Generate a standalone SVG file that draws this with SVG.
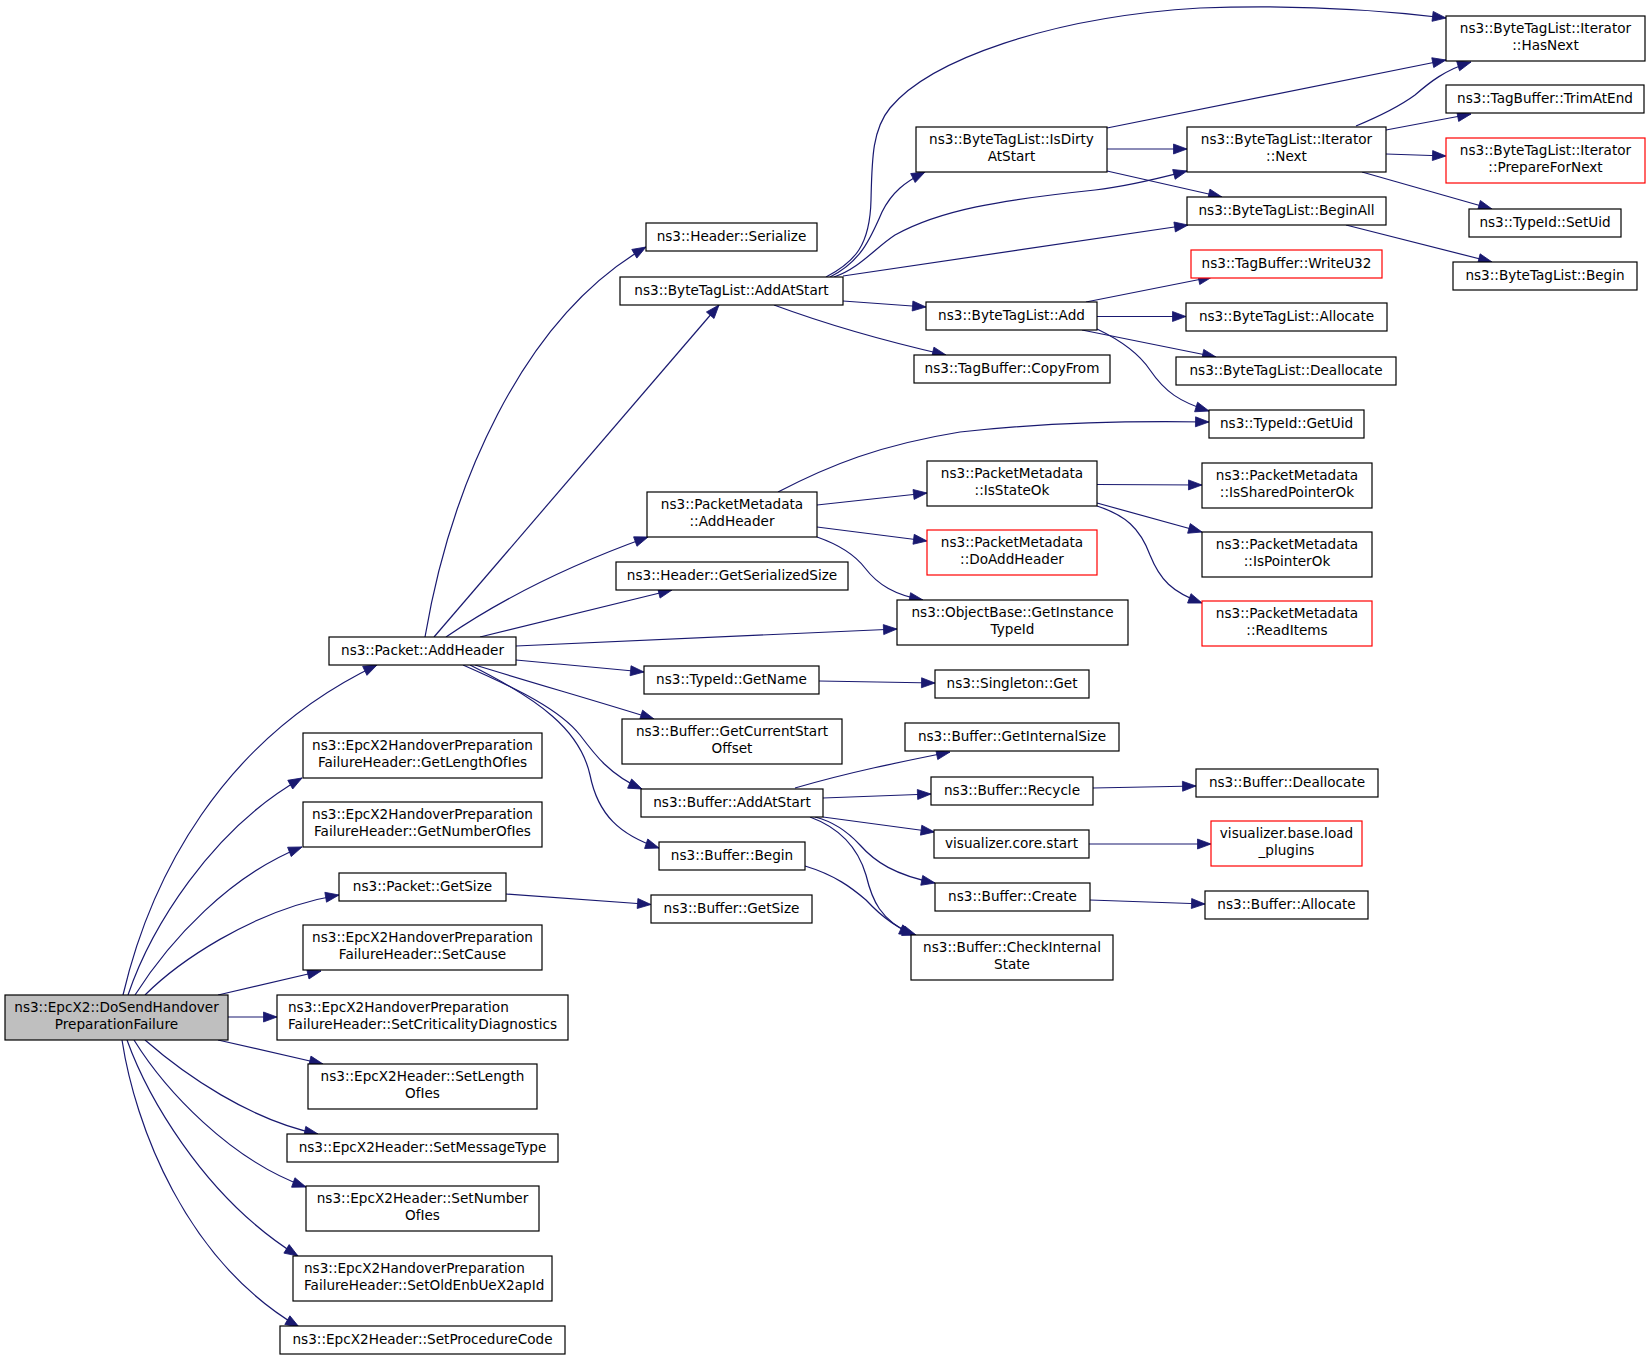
<svg xmlns="http://www.w3.org/2000/svg" width="1651" height="1360" viewBox="0 0 1651 1360">
<style>
.n rect{fill:#fff;stroke:#000;stroke-width:1.2}
.n.r rect{stroke:#ff0000}
.n.g rect{fill:#bfbfbf}
.n text{font-family:"DejaVu Sans",sans-serif;font-size:13.6px;text-anchor:middle;fill:#000}
.n text.l{text-anchor:start}
#edges path{fill:none;stroke:#191970;stroke-width:1.2;marker-end:url(#a)}
</style>
<defs>
<marker id="a" markerUnits="userSpaceOnUse" markerWidth="14" markerHeight="11" refX="13.5" refY="5" orient="auto" overflow="visible">
<path d="M0,0 L13.5,5 L0,10 z" fill="#191970" stroke="#191970" stroke-width="0.8"/>
</marker>
</defs>
<rect width="1651" height="1360" fill="#fff"/>
<g id="edges">
<path d="M123,995 C150,880 220,740 377,665"/>
<path d="M128,995 C150,930 210,830 302,778"/>
<path d="M135,995 C170,940 230,875 302,847"/>
<path d="M145,995 C175,965 250,910 339,895"/>
<path d="M218,995 L321,971"/>
<path d="M228,1017 L277,1017"/>
<path d="M218,1040 L323,1064"/>
<path d="M145,1040 C185,1075 250,1120 318,1134"/>
<path d="M134,1040 C165,1090 230,1160 306,1187"/>
<path d="M127,1040 C145,1090 200,1195 298,1256"/>
<path d="M122,1040 C135,1125 185,1260 299,1327"/>
<path d="M425,637 C450,490 520,320 646,247"/>
<path d="M434,637 L719,305"/>
<path d="M446,637 C500,600 570,565 648,537"/>
<path d="M480,637 L672,590"/>
<path d="M516,646 L897,629"/>
<path d="M516,660 L644,672"/>
<path d="M475,665 C540,685 600,702 654,719"/>
<path d="M463,665 C520,690 560,710 580,735 C595,755 610,775 642,789"/>
<path d="M470,665 C540,700 580,730 590,775 C598,815 620,835 659,848"/>
<path d="M826,277 C855,262 870,245 871,200 C872,160 872,130 890,108 C930,60 1050,17 1200,8 C1300,4 1380,10 1446,18"/>
<path d="M830,277 C860,262 870,240 882,212 C892,192 905,182 925,172"/>
<path d="M834,277 C860,268 875,248 895,235 C940,210 1000,200 1095,190 C1130,186 1160,178 1187,171"/>
<path d="M843,276 L1188,225"/>
<path d="M843,301 L926,307"/>
<path d="M774,305 C820,322 880,340 946,355"/>
<path d="M1107,128 L1446,60"/>
<path d="M1107,149 L1187,149"/>
<path d="M1107,171 L1222,197"/>
<path d="M1356,126 C1380,116 1400,106 1415,95 C1430,82 1445,70 1471,62"/>
<path d="M1386,130 L1471,114"/>
<path d="M1386,154 L1446,156"/>
<path d="M1362,172 L1492,209"/>
<path d="M1346,225 L1492,262"/>
<path d="M1086,302 L1212,277"/>
<path d="M1097,316.5 L1186,316.5"/>
<path d="M1082,330 L1216,357"/>
<path d="M1097,329 C1120,340 1138,352 1150,370 C1165,392 1180,402 1209,411"/>
<path d="M778,492 C830,465 880,445 960,432 C1050,422 1130,421 1209,422"/>
<path d="M817,505 L927,493"/>
<path d="M817,527 L927,541"/>
<path d="M817,537 C840,545 855,555 865,568 C878,585 895,595 923,600"/>
<path d="M1097,484.5 L1202,485"/>
<path d="M1097,503 L1202,532"/>
<path d="M1097,506 C1125,515 1140,528 1150,555 C1160,580 1172,592 1202,603"/>
<path d="M506,894 L651,904.5"/>
<path d="M819,681 L935,683"/>
<path d="M795,788 C850,772 900,762 950,752"/>
<path d="M823,798 L931,794"/>
<path d="M823,817 L934.5,832"/>
<path d="M815,817 C835,822 848,832 860,845 C875,862 895,875 935,883"/>
<path d="M810,817 C840,828 858,848 866,875 C872,900 880,920 913,935"/>
<path d="M805,866 C835,875 852,888 866,900 C880,915 895,928 916,935"/>
<path d="M1093,788 L1196,786"/>
<path d="M1089,844 L1211,844"/>
<path d="M1090,900 L1205,904"/>
</g>
<g id="n_root" class="n g"><rect x="5" y="995" width="223" height="45"/><text x="116.5" y="1012.3">ns3::EpcX2::DoSendHandover</text><text x="116.5" y="1029">PreparationFailure</text></g>
<g id="n_pkt_addheader" class="n"><rect x="329" y="637" width="187" height="28"/><text x="422.5" y="655">ns3::Packet::AddHeader</text></g>
<g id="n_getlengthofies" class="n"><rect x="303" y="733" width="239" height="45"/><text x="422.5" y="750.3">ns3::EpcX2HandoverPreparation</text><text x="422.5" y="767">FailureHeader::GetLengthOfIes</text></g>
<g id="n_getnumberofies" class="n"><rect x="303" y="802" width="239" height="45"/><text x="422.5" y="819.3">ns3::EpcX2HandoverPreparation</text><text x="422.5" y="836">FailureHeader::GetNumberOfIes</text></g>
<g id="n_pkt_getsize" class="n"><rect x="339" y="873" width="167" height="28"/><text x="422.5" y="891">ns3::Packet::GetSize</text></g>
<g id="n_setcause" class="n"><rect x="303" y="925" width="239" height="45"/><text x="422.5" y="942.3">ns3::EpcX2HandoverPreparation</text><text x="422.5" y="959">FailureHeader::SetCause</text></g>
<g id="n_setcrit" class="n"><rect x="277" y="995" width="291" height="45"/><text class="l" x="288" y="1012.3">ns3::EpcX2HandoverPreparation</text><text class="l" x="288" y="1029">FailureHeader::SetCriticalityDiagnostics</text></g>
<g id="n_setlengthofies" class="n"><rect x="308" y="1064" width="229" height="45"/><text x="422.5" y="1081.3">ns3::EpcX2Header::SetLength</text><text x="422.5" y="1098">OfIes</text></g>
<g id="n_setmessagetype" class="n"><rect x="287" y="1134" width="271" height="28"/><text x="422.5" y="1152">ns3::EpcX2Header::SetMessageType</text></g>
<g id="n_setnumberofies" class="n"><rect x="306" y="1186" width="233" height="45"/><text x="422.5" y="1203.3">ns3::EpcX2Header::SetNumber</text><text x="422.5" y="1220">OfIes</text></g>
<g id="n_setoldenb" class="n"><rect x="293" y="1256" width="259" height="45"/><text class="l" x="304" y="1273.3">ns3::EpcX2HandoverPreparation</text><text class="l" x="304" y="1290">FailureHeader::SetOldEnbUeX2apId</text></g>
<g id="n_setprocedurecode" class="n"><rect x="280" y="1326" width="285" height="28"/><text x="422.5" y="1344">ns3::EpcX2Header::SetProcedureCode</text></g>
<g id="n_hdr_serialize" class="n"><rect x="646" y="223" width="171" height="28"/><text x="731.5" y="241">ns3::Header::Serialize</text></g>
<g id="n_btl_addatstart" class="n"><rect x="620" y="277" width="223" height="28"/><text x="731.5" y="295">ns3::ByteTagList::AddAtStart</text></g>
<g id="n_pm_addheader" class="n"><rect x="647" y="492" width="170" height="45"/><text x="732" y="509.3">ns3::PacketMetadata</text><text x="732" y="526">::AddHeader</text></g>
<g id="n_hdr_getsersize" class="n"><rect x="616" y="562" width="232" height="28"/><text x="732" y="580">ns3::Header::GetSerializedSize</text></g>
<g id="n_typeid_getname" class="n"><rect x="644" y="666" width="175" height="28"/><text x="731.5" y="684">ns3::TypeId::GetName</text></g>
<g id="n_buf_getcurstart" class="n"><rect x="622" y="719" width="220" height="45"/><text x="732" y="736.3">ns3::Buffer::GetCurrentStart</text><text x="732" y="753">Offset</text></g>
<g id="n_buf_addatstart" class="n"><rect x="641" y="789" width="182" height="28"/><text x="732" y="807">ns3::Buffer::AddAtStart</text></g>
<g id="n_buf_begin" class="n"><rect x="659" y="842" width="146" height="28"/><text x="732" y="860">ns3::Buffer::Begin</text></g>
<g id="n_buf_getsize" class="n"><rect x="651" y="895" width="161" height="28"/><text x="731.5" y="913">ns3::Buffer::GetSize</text></g>
<g id="n_btl_isdirty" class="n"><rect x="916" y="127" width="191" height="45"/><text x="1011.5" y="144.3">ns3::ByteTagList::IsDirty</text><text x="1011.5" y="161">AtStart</text></g>
<g id="n_btl_add" class="n"><rect x="926" y="302" width="171" height="28"/><text x="1011.5" y="320">ns3::ByteTagList::Add</text></g>
<g id="n_tb_copyfrom" class="n"><rect x="914" y="355" width="196" height="28"/><text x="1012" y="373">ns3::TagBuffer::CopyFrom</text></g>
<g id="n_pm_isstateok" class="n"><rect x="927" y="461" width="170" height="45"/><text x="1012" y="478.3">ns3::PacketMetadata</text><text x="1012" y="495">::IsStateOk</text></g>
<g id="n_pm_doaddheader" class="n r"><rect x="927" y="530" width="170" height="45"/><text x="1012" y="547.3">ns3::PacketMetadata</text><text x="1012" y="564">::DoAddHeader</text></g>
<g id="n_ob_getinstance" class="n"><rect x="897" y="600" width="231" height="45"/><text x="1012.5" y="617.3">ns3::ObjectBase::GetInstance</text><text x="1012.5" y="634">TypeId</text></g>
<g id="n_singleton_get" class="n"><rect x="935" y="670" width="154" height="28"/><text x="1012" y="688">ns3::Singleton::Get</text></g>
<g id="n_buf_getinternalsize" class="n"><rect x="905" y="723" width="214" height="28"/><text x="1012" y="741">ns3::Buffer::GetInternalSize</text></g>
<g id="n_buf_recycle" class="n"><rect x="931" y="777" width="162" height="28"/><text x="1012" y="795">ns3::Buffer::Recycle</text></g>
<g id="n_vis_core_start" class="n"><rect x="934" y="830" width="155" height="28"/><text x="1011.5" y="848">visualizer.core.start</text></g>
<g id="n_buf_create" class="n"><rect x="935" y="883" width="155" height="28"/><text x="1012.5" y="901">ns3::Buffer::Create</text></g>
<g id="n_buf_checkinternal" class="n"><rect x="911" y="935" width="202" height="45"/><text x="1012" y="952.3">ns3::Buffer::CheckInternal</text><text x="1012" y="969">State</text></g>
<g id="n_it_next" class="n"><rect x="1187" y="127" width="199" height="45"/><text x="1286.5" y="144.3">ns3::ByteTagList::Iterator</text><text x="1286.5" y="161">::Next</text></g>
<g id="n_btl_beginall" class="n"><rect x="1187" y="197" width="199" height="28"/><text x="1286.5" y="215">ns3::ByteTagList::BeginAll</text></g>
<g id="n_tb_writeu32" class="n r"><rect x="1191" y="250" width="191" height="28"/><text x="1286.5" y="268">ns3::TagBuffer::WriteU32</text></g>
<g id="n_btl_allocate" class="n"><rect x="1186" y="303" width="201" height="28"/><text x="1286.5" y="321">ns3::ByteTagList::Allocate</text></g>
<g id="n_btl_deallocate" class="n"><rect x="1176" y="357" width="220" height="28"/><text x="1286" y="375">ns3::ByteTagList::Deallocate</text></g>
<g id="n_typeid_getuid" class="n"><rect x="1209" y="410" width="155" height="28"/><text x="1286.5" y="428">ns3::TypeId::GetUid</text></g>
<g id="n_pm_issharedptr" class="n"><rect x="1202" y="463" width="170" height="45"/><text x="1287" y="480.3">ns3::PacketMetadata</text><text x="1287" y="497">::IsSharedPointerOk</text></g>
<g id="n_pm_isptr" class="n"><rect x="1202" y="532" width="170" height="45"/><text x="1287" y="549.3">ns3::PacketMetadata</text><text x="1287" y="566">::IsPointerOk</text></g>
<g id="n_pm_readitems" class="n r"><rect x="1202" y="601" width="170" height="45"/><text x="1287" y="618.3">ns3::PacketMetadata</text><text x="1287" y="635">::ReadItems</text></g>
<g id="n_buf_deallocate" class="n"><rect x="1196" y="769" width="182" height="28"/><text x="1287" y="787">ns3::Buffer::Deallocate</text></g>
<g id="n_vis_load_plugins" class="n r"><rect x="1211" y="821" width="151" height="45"/><text x="1286.5" y="838.3">visualizer.base.load</text><text x="1286.5" y="855">_plugins</text></g>
<g id="n_buf_allocate" class="n"><rect x="1205" y="891" width="163" height="28"/><text x="1286.5" y="909">ns3::Buffer::Allocate</text></g>
<g id="n_it_hasnext" class="n"><rect x="1446" y="16" width="199" height="45"/><text x="1545.5" y="33.3">ns3::ByteTagList::Iterator</text><text x="1545.5" y="50">::HasNext</text></g>
<g id="n_tb_trimatend" class="n"><rect x="1446" y="85" width="198" height="28"/><text x="1545" y="103">ns3::TagBuffer::TrimAtEnd</text></g>
<g id="n_it_preparefornext" class="n r"><rect x="1446" y="138" width="199" height="45"/><text x="1545.5" y="155.3">ns3::ByteTagList::Iterator</text><text x="1545.5" y="172">::PrepareForNext</text></g>
<g id="n_typeid_setuid" class="n"><rect x="1469" y="209" width="152" height="28"/><text x="1545" y="227">ns3::TypeId::SetUid</text></g>
<g id="n_btl_begin" class="n"><rect x="1453" y="262" width="184" height="28"/><text x="1545" y="280">ns3::ByteTagList::Begin</text></g>
</svg>
